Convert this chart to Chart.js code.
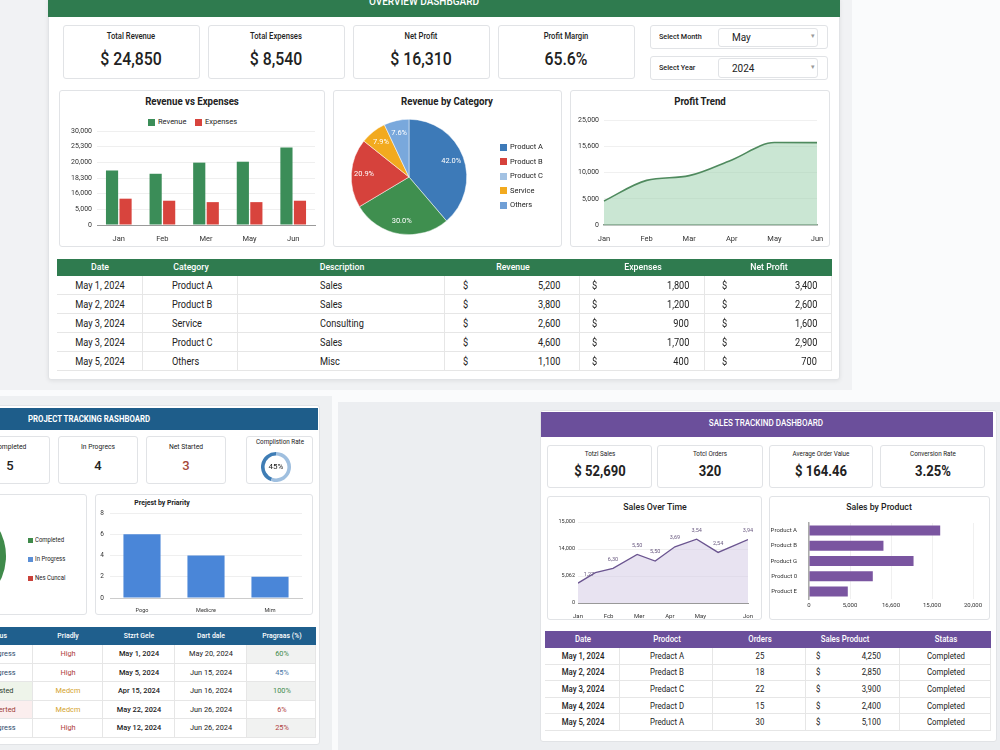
<!DOCTYPE html>
<html>
<head>
<meta charset="utf-8">
<script src="https://cdn.jsdelivr.net/npm/chart.js@4.4.1/dist/chart.umd.min.js"></script>
<style>
body{margin:0;width:1000px;height:750px;overflow:hidden;background:#fafbfc;font-family:Roboto,"Noto Sans",sans-serif;position:relative;color:#222}
.r{position:absolute;box-sizing:border-box}
.card{position:absolute;box-sizing:border-box;background:#fff;border:1px solid #e1e3e6;border-radius:3px}
.t{position:absolute;white-space:nowrap}
canvas{position:absolute}
</style>
</head>
<body>
<script>
// ---------- data: overview ----------
const kpiTopLabels = ['Total Revenue', 'Total Expenses', 'Net Profit', 'Profit Margin'];
const kpiTopValues = ['$ 24,850', '$ 8,540', '$ 16,310', '65.6%'];

const months1 = ['Jan', 'Feb', 'Mer', 'May', 'Jun'];
const revenue = [17400, 16350, 19900, 20200, 24750];
const expenses = [8400, 7750, 7300, 7300, 7750];
const revTicks = ['0', '5,000', '16,000', '18,300', '20,000', '25,300', '30,000'];

const pieSlices = ['Product A', 'Product C', 'Product B', 'Service', 'Others'];
const pieValues = [42.0, 30.0, 20.9, 7.9, 7.6];
const pieColors = ['#3d7ab8', '#3f8f4f', '#d6423c', '#f2aa1f', '#79a8dc'];
const pieLegend = ['Product A', 'Product B', 'Product C', 'Service', 'Others'];
const pieLegendColors = ['#3d7ab8', '#d6423c', '#a3c2e3', '#f2aa1f', '#6f9fd6'];

const months3 = ['Jan', 'Feb', 'Mar', 'Apr', 'May', 'Jun'];
const profit = [4570, 8500, 9400, 12400, 15700, 15700];
const profitTicks = ['0', '5,000', '10,000', '15,600', '25,000'];

const tblDates = ['May 1, 2024', 'May 2, 2024', 'May 3, 2024', 'May 3, 2024', 'May 5, 2024'];
const tblCats = ['Product A', 'Product B', 'Service', 'Product C', 'Others'];
const tblDesc = ['Sales', 'Sales', 'Consulting', 'Sales', 'Misc'];
const tblRev = ['5,200', '3,800', '2,600', '4,600', '1,100'];
const tblExp = ['1,800', '1,200', '900', '1,700', '400'];
const tblNet = ['3,400', '2,600', '1,600', '2,900', '700'];

// ---------- data: project tracking ----------
const projKpiLabels = ['Completed', 'In Progrecs', 'Net Started'];
const projKpiValues = ['5', '4', '3'];
const completionRate = 45;
const statusLabels = ['Completed', 'In Progress', 'Nes Cuncal'];
const statusCounts = [5, 4, 3];
const statusColors = ['#3f8a4a', '#5b8fd6', '#c9413a'];
const prioLabels = ['Pogo', 'Medicre', 'Mim'];
const prioValues = [6, 4, 2];

const projStatus = ['In Progress', 'In Progress', 'Consisted', 'Not Sterted', 'In Progress'];
const projPrio = ['High', 'High', 'Medcm', 'Medcm', 'High'];
const projStart = ['May 1, 2024', 'May 5, 2024', 'Apr 15, 2024', 'May 22, 2024', 'May 12, 2024'];
const projEnd = ['May 20, 2024', 'Jun 15, 2024', 'Jun 16, 2024', 'Jun 26, 2024', 'Jun 26, 2024'];
const projProgress = ['60%', '45%', '100%', '6%', '25%'];

// ---------- data: sales tracking ----------
const salesKpiLabels = ['Totzl Sales', 'Totcl Orders', 'Average Order Value', 'Conversion Rate'];
const salesKpiValues = ['$ 52,690', '320', '$ 164.46', '3.25%'];

const salesX = [0, 0.51, 1.03, 1.74, 2.27, 2.85, 3.49, 4.12, 5];
const salesY = [3680, 5620, 6430, 9000, 7780, 10400, 11820, 9370, 11760];
const salesPtLabels = ['1,27', '', '6,30', '5,50', '5,50', '3,69', '3,54', '2,54', '3,94'];
const salesTickPos = [0, 0.9, 1.8, 2.7, 3.6, 5];
const salesTickLabels = ['Jan', 'Fcb', 'Mer', 'Apr', 'May', 'Jon'];
const salesYTicks = ['0', '5,062', '14,000', '15,000'];

const prodLabels = ['Product A', 'Product B', 'Product G', 'Product 0', 'Product E'];
const prodSales = [16000, 9080, 12750, 7780, 4730];
const prodTicks = ['0', '5,000', '16,600', '15,000', '20,000'];

const ordDates = ['May 1, 2024', 'May 2, 2024', 'May 3, 2024', 'May 4, 2024', 'May 5, 2024'];
const ordProducts = ['Predact A', 'Predact B', 'Predact C', 'Predact D', 'Preduct A'];
const ordCounts = ['25', '18', '22', '15', '30'];
const ordSales = ['4,250', '2,850', '3,900', '2,400', '5,100'];
const ordStatus = ['Completed', 'Completed', 'Completed', 'Completed', 'Completed'];

// ---------- helpers ----------
function rect(x, y, w, h, bg, cls) {
    const d = document.createElement('div');
    d.className = cls || 'r';
    Object.assign(d.style, { left: x + 'px', top: y + 'px', width: w + 'px', height: h + 'px' });
    if (bg) d.style.background = bg;
    document.body.appendChild(d);
    return d;
}
function T(text, x, y, o) {
    o = o || {};
    const size = o.size || 9;
    const d = document.createElement('div');
    d.className = 't';
    d.textContent = text;
    d.style.fontSize = size + 'px';
    d.style.lineHeight = (size * 1.3) + 'px';
    d.style.top = (y - size * 0.65) + 'px';
    d.style.fontWeight = o.weight || 400;
    d.style.color = o.color || '#222';
    const align = o.align || 'center';
    if (align === 'center') {
        d.style.left = (x - 150) + 'px'; d.style.width = '300px'; d.style.textAlign = 'center';
    } else if (align === 'left') {
        d.style.left = x + 'px';
    } else {
        d.style.right = (1000 - x) + 'px';
    }
    if (o.sx) { d.style.transform = 'scaleX(' + o.sx + ')'; d.style.transformOrigin = align === 'left' ? 'left center' : (align === 'right' ? 'right center' : 'center'); }
    document.body.appendChild(d);
    return d;
}
function canvas(x, y, w, h) {
    const c = document.createElement('canvas');
    c.width = w; c.height = h;
    c.style.left = x + 'px'; c.style.top = y + 'px';
    document.body.appendChild(c);
    return c;
}
// columns: [{w, align, pad}], cells: array of rows of {text|dollar, color, bg}
function table(x, y, cols, headH, rowH, headBg, heads, rows, fs, headFs) {
    let cx = x;
    cols.forEach((c, j) => {
        rect(cx, y, c.w, headH, headBg);
        T(heads[j], cx + c.w / 2 + (c.hoff || 0), y + headH / 2, { size: headFs, weight: 500, color: '#fff', sx: 0.92 });
        rows.forEach((row, i) => {
            const cell = row[j];
            const ry = y + headH + i * rowH;
            const d = rect(cx, ry, c.w, rowH, cell.bg || '#fff');
            d.style.borderBottom = '1px solid #e6e6e6';
            d.style.borderRight = '1px solid #e6e6e6';
            const cy = ry + rowH / 2;
            const st = { size: fs, color: cell.color || '#222', weight: cell.weight || 400, sx: 0.92 };
            if (cell.dollar !== undefined) {
                T('$', cx + c.dl, cy, Object.assign({}, st, { align: 'left' }));
                T(cell.dollar, cx + c.w - c.dr, cy, Object.assign({}, st, { align: 'right' }));
            } else if (c.align === 'left') {
                T(cell.text, cx + c.pad, cy, Object.assign({}, st, { align: 'left' }));
            } else {
                T(cell.text, cx + c.w / 2, cy, st);
            }
        });
        cx += c.w;
    });
}

Chart.defaults.font.family = 'Roboto, "Noto Sans", sans-serif';
Chart.defaults.color = '#333';
Chart.defaults.animation = false;
Chart.defaults.responsive = false;
Chart.defaults.devicePixelRatio = 1;
Chart.defaults.plugins.legend.display = false;
Chart.defaults.plugins.tooltip.enabled = false;

// ================= OVERVIEW =================
rect(0, 0, 852, 390, '#f1f2f4');
const topCard = rect(48, -3, 792, 383, '#fff', 'card');
topCard.style.boxShadow = '0 1px 4px rgba(0,0,0,0.08)';
rect(48, -3, 792, 20, '#2f7b4f');
T('OVERVIEW DASHBGARD', 424, 1.5, { size: 10, weight: 500, color: '#fff' });

const kpiX = [63, 208, 353, 498];
kpiTopLabels.forEach((l, i) => {
    rect(kpiX[i], 25, 137, 54, '#fff', 'card');
    T(l, kpiX[i] + 68, 37, { size: 8.5, weight: 500, sx: 0.9 });
    T(kpiTopValues[i], kpiX[i] + 68, 59, { size: 18, weight: 500, sx: 0.88 });
});
rect(650, 25, 178, 24, '#fff', 'card');
rect(650, 56, 178, 24, '#fff', 'card');
rect(718, 28, 100, 19, '#fff', 'card');
rect(718, 58, 100, 20, '#fff', 'card');
T('Select Month', 659, 37, { size: 8, weight: 500, align: 'left', sx: 0.9 });
T('Select Year', 659, 68, { size: 8, weight: 500, align: 'left', sx: 0.9 });
T('May', 732, 37, { size: 10, align: 'left' });
T('2024', 732, 68, { size: 10, align: 'left' });
T('\u25BE', 813, 37, { size: 7, color: '#999' });
T('\u25BE', 813, 68, { size: 7, color: '#999' });

// chart cards
rect(59, 90, 266, 157, '#fff', 'card');
rect(333, 90, 229, 157, '#fff', 'card');
rect(570, 90, 260, 157, '#fff', 'card');
T('Revenue vs Expenses', 192, 102, { size: 10.5, weight: 700, sx: 0.92 });
T('Revenue by Category', 447, 102, { size: 10.5, weight: 700, sx: 0.92 });
T('Profit Trend', 700, 102, { size: 10.5, weight: 700, sx: 0.92 });

rect(148, 119, 7, 7, '#3b8d58');
T('Revenue', 158, 122, { size: 7.5, align: 'left' });
rect(195, 119, 7, 7, '#d8443d');
T('Expenses', 205, 122, { size: 7.5, align: 'left' });

new Chart(canvas(59, 90, 266, 157), {
    type: 'bar',
    data: {
        labels: months1,
        datasets: [
            { label: 'Revenue', data: revenue, backgroundColor: '#3b8d58', categoryPercentage: 0.62, barPercentage: 0.9 },
            { label: 'Expenses', data: expenses, backgroundColor: '#d8443d', categoryPercentage: 0.62, barPercentage: 0.9 }
        ]
    },
    options: {
        layout: { padding: { top: 41, right: 10, left: 0, bottom: 0 } },
        scales: {
            x: { grid: { display: false }, border: { color: '#9a9a9a' }, ticks: { font: { size: 7.5 }, padding: 2 }, afterFit(s) { s.height = 22; } },
            y: {
                min: 0, max: 30000,
                ticks: { stepSize: 5000, font: { size: 7 }, padding: 5, callback: (v, i) => revTicks[i] },
                grid: { color: '#efefef', drawTicks: false }, border: { display: false },
                afterFit(s) { s.width = 38; }
            }
        }
    }
});

const pieLabelPlugin = {
    id: 'pieLabels',
    afterDatasetsDraw(chart) {
        const ctx = chart.ctx;
        const meta = chart.getDatasetMeta(0);
        ctx.save();
        ctx.fillStyle = '#fff';
        ctx.font = '7.5px Roboto';
        ctx.textAlign = 'center';
        ctx.textBaseline = 'middle';
        meta.data.forEach((arc, i) => {
            const p = arc.getProps(['x', 'y', 'startAngle', 'endAngle', 'outerRadius']);
            const a = (p.startAngle + p.endAngle) / 2;
            const r = p.outerRadius * 0.78;
            ctx.fillText(pieValues[i].toFixed(1) + '%', p.x + Math.cos(a) * r, p.y + Math.sin(a) * r);
        });
        ctx.restore();
    }
};
new Chart(canvas(333, 90, 229, 157), {
    type: 'pie',
    data: { labels: pieSlices, datasets: [{ data: pieValues, backgroundColor: pieColors, borderColor: '#fff', borderWidth: 0.5 }] },
    options: { layout: { padding: { left: 18, right: 95, top: 29, bottom: 12 } } },
    plugins: [pieLabelPlugin]
});
pieLegend.forEach((l, i) => {
    const y = 147 + i * 14.5;
    rect(500, y - 3.5, 7, 7, pieLegendColors[i]);
    T(l, 510, y, { size: 7.5, align: 'left' });
});

new Chart(canvas(570, 90, 260, 157), {
    type: 'line',
    data: {
        labels: months3,
        datasets: [{ data: profit, borderColor: '#4f8a5e', backgroundColor: 'rgba(150,205,168,0.5)', fill: 'origin', cubicInterpolationMode: 'monotone', pointRadius: 0, borderWidth: 1.6 }]
    },
    options: {
        layout: { padding: { top: 30, right: 13, left: 0, bottom: 0 } },
        scales: {
            x: { grid: { display: false }, border: { color: '#8a9a8e', width: 1.5 }, ticks: { font: { size: 7.5 }, padding: 2, maxRotation: 0 }, afterFit(s) { s.height = 22; } },
            y: {
                min: 0, max: 20000,
                ticks: { stepSize: 5000, font: { size: 7 }, padding: 5, callback: (v, i) => profitTicks[i] },
                grid: { color: '#f0f0f0', drawTicks: false }, border: { display: false },
                afterFit(s) { s.width = 34; }
            }
        }
    }
});

// overview table
const topRows = tblDates.map((d, i) => [
    { text: d }, { text: tblCats[i] }, { text: tblDesc[i] },
    { dollar: tblRev[i] }, { dollar: tblExp[i] }, { dollar: tblNet[i] }
]);
table(57, 259, [
    { w: 86 }, { w: 95, align: 'left', pad: 29 }, { w: 207, align: 'left', pad: 82 },
    { w: 135, dl: 18, dr: 20 }, { w: 125, dl: 12, dr: 16 }, { w: 127, dl: 17, dr: 15 }
], 17, 19, '#2f7b4f', ['Date', 'Category', 'Description', 'Revenue', 'Expenses', 'Net Profit'], topRows, 10, 9.5);

// ================= PROJECT TRACKING =================
rect(0, 396, 332, 354, '#eef0f2');
rect(-5, 405, 325, 340, '#fff', 'card');
rect(-5, 408, 323, 22, '#1e5d8a');
T('PROJECT TRACKING RASHBOARD', 28, 420, { size: 8.5, weight: 700, color: '#fff', align: 'left', sx: 0.92 });

const projKpiX = [-30, 58, 146];
projKpiLabels.forEach((l, i) => {
    rect(projKpiX[i], 436, 80, 48, '#fff', 'card');
    T(l, projKpiX[i] + 40, 447, { size: 7.5, sx: 0.9 });
    T(projKpiValues[i], projKpiX[i] + 40, 466, { size: 13, weight: 500, color: i === 2 ? '#a5493a' : '#222' });
});
rect(246, 436, 67, 48, '#fff', 'card');
T('Complistion Rate', 280, 443, { size: 7, sx: 0.9 });
new Chart(canvas(261, 452, 30, 30), {
    type: 'doughnut',
    data: { labels: ['Done', 'Left'], datasets: [{ data: [completionRate, 100 - completionRate], backgroundColor: ['#3f7db5', '#9fbfdf'], borderWidth: 0 }] },
    options: { cutout: '76%', rotation: 200 }
});
T(completionRate + '%', 276, 467, { size: 8 });

rect(-40, 494, 127, 121, '#fff', 'card');
rect(95, 494, 218, 121, '#fff', 'card');
new Chart(canvas(-110, 498, 120, 116), {
    type: 'pie',
    data: { labels: statusLabels, datasets: [{ data: statusCounts, backgroundColor: statusColors, borderWidth: 0 }] },
    options: { layout: { padding: 2 } }
});
statusLabels.forEach((l, i) => {
    const y = 540 + i * 19;
    rect(28, y - 2.5, 5, 5, statusColors[i]);
    T(l, 35, y, { size: 6.5, align: 'left', sx: 0.92 });
});

T('Prejest by Priarity', 162, 503, { size: 7.5, weight: 700, sx: 0.92 });
new Chart(canvas(95, 494, 218, 121), {
    type: 'bar',
    data: { labels: prioLabels, datasets: [{ data: prioValues, backgroundColor: '#4a86d8', categoryPercentage: 1, barPercentage: 0.58 }] },
    options: {
        layout: { padding: { top: 19, right: 11, left: 0, bottom: 0 } },
        scales: {
            x: { grid: { display: false }, border: { color: '#ccc' }, ticks: { font: { size: 5.5 }, padding: 1 }, afterFit(s) { s.height = 17; } },
            y: {
                min: 0, max: 8,
                ticks: { stepSize: 2, font: { size: 6.5 }, padding: 6 },
                grid: { color: '#efefef', drawTicks: false }, border: { display: false },
                afterFit(s) { s.width = 15; }
            }
        }
    }
});

const prioColor = { High: '#b0413e', Medcm: '#d4a32a' };
const progColor = ['#3e8a4c', '#4a78a8', '#3e8a4c', '#b04040', '#b04040'];
const statusBg = ['#fff', '#fff', '#eef4ea', '#fbeeee', '#fff'];
const statusColor = ['#2c4a6c', '#2c4a6c', '#2d3d2a', '#9e3a34', '#2c4a6c'];
const projRows = projStatus.map((s, i) => [
    { text: s, color: statusColor[i], bg: statusBg[i] },
    { text: projPrio[i], color: prioColor[projPrio[i]] },
    { text: projStart[i], weight: 500 },
    { text: projEnd[i] },
    { text: projProgress[i], color: progColor[i], bg: i % 2 === 0 ? '#f1f2f1' : '#fff' }
]);
table(-39, 627, [{ w: 72 }, { w: 70 }, { w: 72 }, { w: 72 }, { w: 69 }], 18, 18.5, '#1f5f8d',
    ['Status', 'Priadly', 'Stzrt Gele', 'Dart dale', 'Pragraas (%)'], projRows, 8, 7.5);

// ================= SALES TRACKING =================
rect(338, 402, 662, 348, '#eceef1');
rect(540, 410, 457, 332, '#fff', 'card');
rect(541, 412, 452, 25, '#6b4f9b');
T('SALES TRACKIND DASHBOARD', 766, 424, { size: 8.5, weight: 500, color: '#fff', sx: 0.95 });

const salesKpiX = [547, 657, 769, 880];
const salesKpiW = [105, 106, 104, 105];
salesKpiLabels.forEach((l, i) => {
    rect(salesKpiX[i], 445, salesKpiW[i], 43, '#fff', 'card');
    T(l, salesKpiX[i] + salesKpiW[i] / 2, 455, { size: 7, sx: 0.9 });
    T(salesKpiValues[i], salesKpiX[i] + salesKpiW[i] / 2, 472, { size: 14.5, weight: 700, sx: 0.9 });
});

rect(547, 496, 215, 124, '#fff', 'card');
rect(769, 496, 221, 124, '#fff', 'card');
T('Sales Over Time', 655, 507, { size: 9.5, weight: 500, sx: 0.92 });
T('Sales by Product', 879, 507, { size: 9.5, weight: 500, sx: 0.92 });

const pointLabelPlugin = {
    id: 'ptLabels',
    afterDatasetsDraw(chart) {
        const ctx = chart.ctx;
        const meta = chart.getDatasetMeta(0);
        ctx.save();
        ctx.fillStyle = '#6a5a80';
        ctx.font = '5.5px Roboto';
        ctx.textAlign = 'center';
        ctx.textBaseline = 'middle';
        meta.data.forEach((pt, i) => {
            if (!salesPtLabels[i]) return;
            const dx = i === 0 ? 11 : 0;
            ctx.fillText(salesPtLabels[i], pt.x + dx, pt.y - 9);
        });
        ctx.restore();
    }
};
new Chart(canvas(547, 496, 215, 124), {
    type: 'line',
    data: {
        datasets: [{
            data: salesX.map((x, i) => ({ x: x, y: salesY[i] })),
            borderColor: '#6b5590', backgroundColor: 'rgba(214,204,230,0.55)', fill: 'origin',
            tension: 0, pointRadius: 0, borderWidth: 1.3
        }]
    },
    options: {
        layout: { padding: { top: 26, right: 14, left: 0, bottom: 0 } },
        scales: {
            x: {
                type: 'linear', min: 0, max: 5,
                afterBuildTicks(s) { s.ticks = salesTickPos.map(v => ({ value: v })); },
                ticks: { font: { size: 6 }, padding: 2, autoSkip: false, maxRotation: 0, callback: (v, i) => salesTickLabels[i] },
                grid: { display: false }, border: { color: '#999' },
                afterFit(s) { s.height = 17; }
            },
            y: {
                min: 0, max: 15000,
                ticks: { stepSize: 5000, font: { size: 5.5 }, padding: 3, callback: (v, i) => salesYTicks[i] },
                grid: { color: '#efefef', drawTicks: false }, border: { display: false },
                afterFit(s) { s.width = 31; }
            }
        }
    },
    plugins: [pointLabelPlugin]
});

new Chart(canvas(769, 496, 221, 124), {
    type: 'bar',
    data: { labels: prodLabels, datasets: [{ data: prodSales, backgroundColor: '#7a55a0', categoryPercentage: 1, barPercentage: 0.66 }] },
    options: {
        indexAxis: 'y',
        layout: { padding: { top: 27, right: 17, left: 0, bottom: 0 } },
        scales: {
            x: {
                min: 0, max: 20000,
                ticks: { stepSize: 5000, font: { size: 6 }, padding: 3, callback: (v, i) => prodTicks[i] },
                grid: { color: '#f0f0f0', drawTicks: false }, border: { display: false },
                afterFit(s) { s.height = 21; }
            },
            y: {
                grid: { display: false }, border: { color: '#aaa', width: 1.5 },
                ticks: { font: { size: 6 }, padding: 4 },
                afterFit(s) { s.width = 40; }
            }
        }
    }
});

const ordRows = ordDates.map((d, i) => [
    { text: d, weight: 500 }, { text: ordProducts[i] }, { text: ordCounts[i] },
    { dollar: ordSales[i] }, { text: ordStatus[i] }
]);
table(545, 631, [{ w: 75 }, { w: 93 }, { w: 93 }, { w: 94, dl: 10, dr: 19, hoff: -8 }, { w: 91 }], 17, 16.6, '#6b4f9b',
    ['Date', 'Prodoct', 'Orders', 'Sales Product', 'Statas'], ordRows, 8.5, 8.5);
</script>
</body>
</html>
